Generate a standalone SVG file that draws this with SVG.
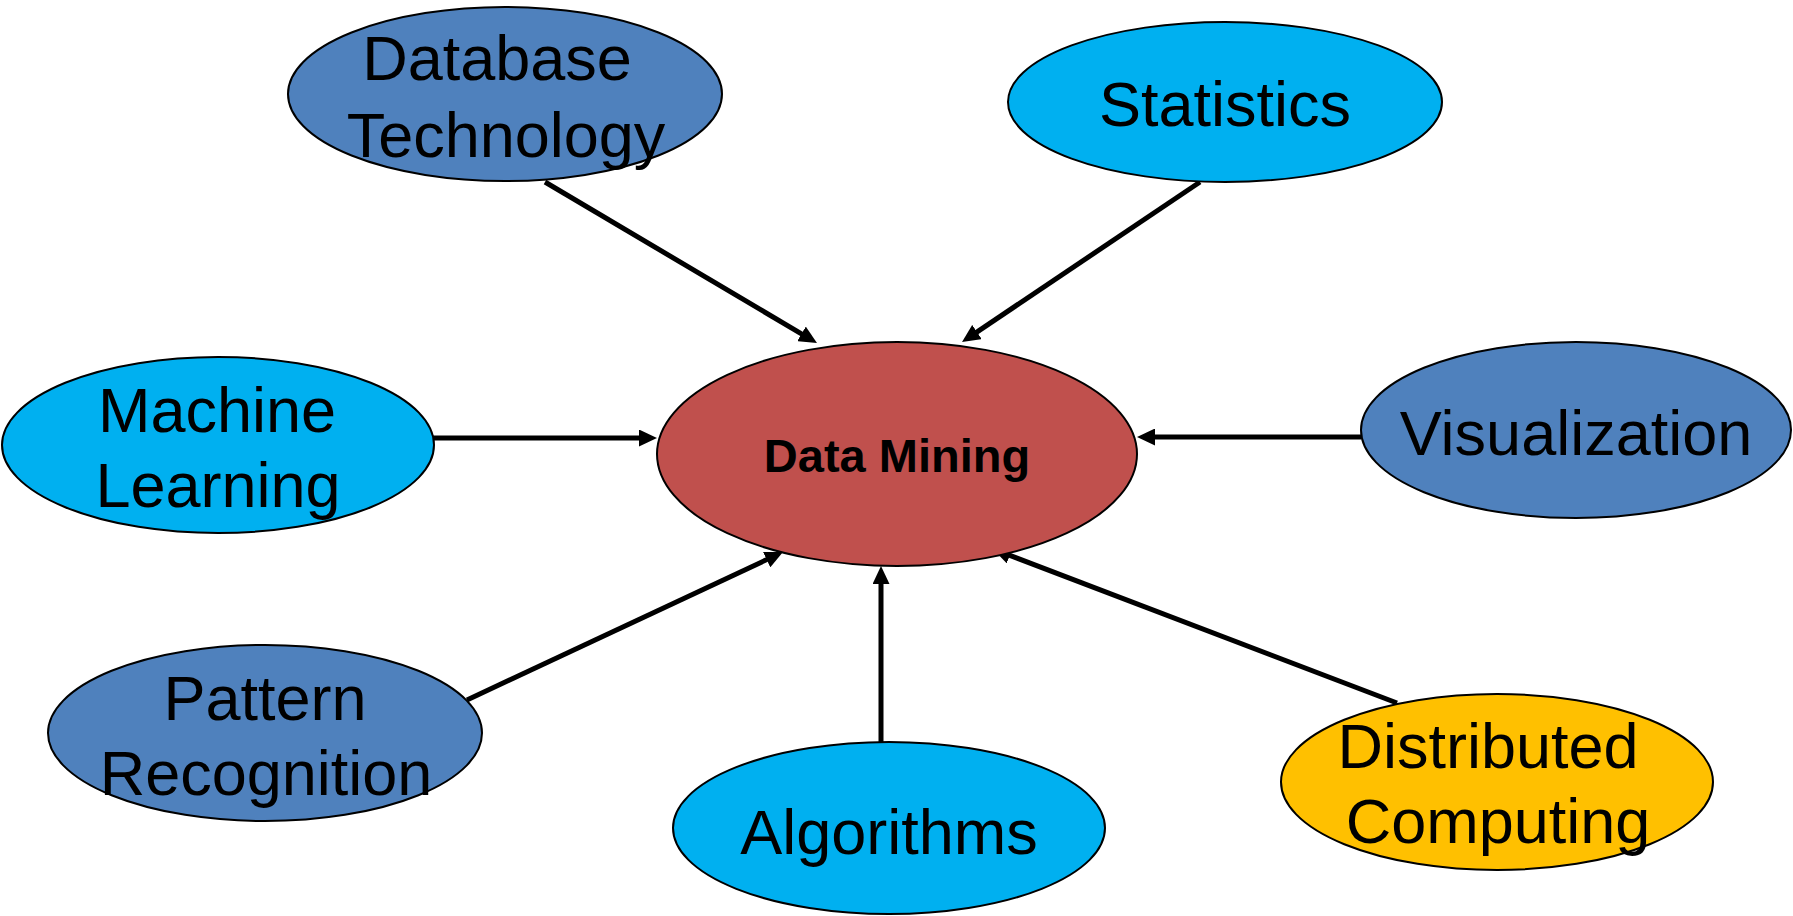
<svg xmlns="http://www.w3.org/2000/svg" width="1793" height="916" viewBox="0 0 1793 916">
<style>
.node{stroke:#000;stroke-width:2}
.blue{fill:#4F81BD}
.cyan{fill:#00B0F0}
.red{fill:#C0504D}
.yellow{fill:#FFC000}
.t{font-family:"Liberation Sans",Arial,sans-serif;font-size:63px;fill:#000;text-anchor:middle}
.tb{font-family:"Liberation Sans",Arial,sans-serif;font-size:47px;font-weight:bold;fill:#000;text-anchor:middle}
.conn line{stroke:#000;stroke-width:5;marker-end:url(#arr)}
</style>
<defs>
<marker id="arr" markerUnits="userSpaceOnUse" markerWidth="18" markerHeight="17" refX="2" refY="8.5" orient="auto">
<path d="M0,0 L18,8.5 L0,17 z" fill="#000"/>
</marker>
</defs>
<rect width="1793" height="916" fill="#fff"/>
<g id="connectors" class="conn">
<line x1="545" y1="182" x2="803.2" y2="334.9"/>
<line x1="1200" y1="182" x2="975.3" y2="333.1"/>
<line x1="433" y1="438" x2="641" y2="438"/>
<line x1="1361" y1="437" x2="1153" y2="437"/>
<line x1="467" y1="700" x2="768.5" y2="558.8"/>
<line x1="881" y1="742" x2="881" y2="582"/>
<line x1="1397" y1="703" x2="1007.9" y2="554.7"/>
</g>
<g id="data-mining">
<ellipse class="node red" cx="897" cy="454" rx="240" ry="112"/>
<text class="tb" x="897" y="472">Data Mining</text>
</g>
<g id="database-technology">
<ellipse class="node blue" cx="505" cy="94" rx="217" ry="87"/>
<text class="t" x="497" y="80">Database</text>
<text class="t" x="506" y="157">Technology</text>
</g>
<g id="statistics">
<ellipse class="node cyan" cx="1225" cy="102" rx="217" ry="80"/>
<text class="t" x="1225" y="126">Statistics</text>
</g>
<g id="machine-learning">
<ellipse class="node cyan" cx="218" cy="445" rx="216" ry="88"/>
<text class="t" x="217" y="432">Machine</text>
<text class="t" x="218" y="507">Learning</text>
</g>
<g id="visualization">
<ellipse class="node blue" cx="1576" cy="430" rx="215" ry="88"/>
<text class="t" x="1576" y="455">Visualization</text>
</g>
<g id="pattern-recognition">
<ellipse class="node blue" cx="265" cy="733" rx="217" ry="88"/>
<text class="t" x="265" y="720">Pattern</text>
<text class="t" x="266" y="795">Recognition</text>
</g>
<g id="algorithms">
<ellipse class="node cyan" cx="889" cy="828" rx="216" ry="86"/>
<text class="t" x="889" y="854">Algorithms</text>
</g>
<g id="distributed-computing">
<ellipse class="node yellow" cx="1497" cy="782" rx="216" ry="88"/>
<text class="t" x="1488" y="768">Distributed</text>
<text class="t" x="1498" y="843">Computing</text>
</g>
</svg>
